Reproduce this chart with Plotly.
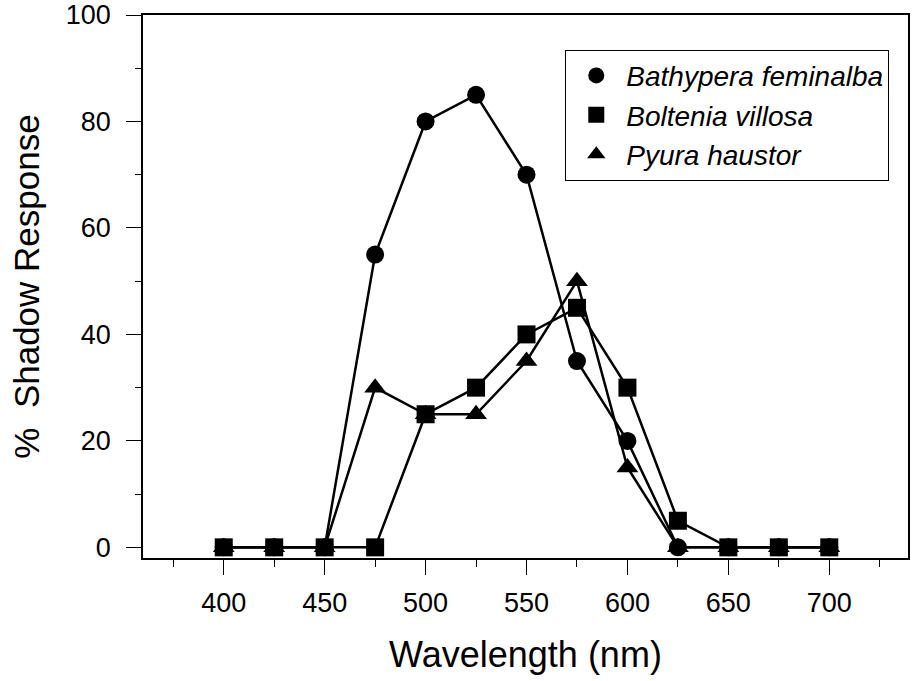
import plotly.graph_objects as go

wavelength = [400, 425, 450, 475, 500, 525, 550, 575, 600, 625, 650, 675, 700]
bathypera = [0, 0, 0, 55, 80, 85, 70, 35, 20, 0, 0, 0, 0]
boltenia = [0, 0, 0, 0, 25, 30, 40, 45, 30, 5, 0, 0, 0]
pyura = [0, 0, 0, 30, 25, 25, 35, 50, 15, 0, 0, 0, 0]

names = ["Bathypera feminalba", "Boltenia villosa", "Pyura haustor"]
x_ticks = [400, 450, 500, 550, 600, 650, 700]
y_ticks = [0, 20, 40, 60, 80, 100]

FONT = "Arial, 'Liberation Sans', sans-serif"
MS = 18

fig = go.Figure()
series = [
    (pyura, "triangle-up", names[2]),
    (bathypera, "circle", names[0]),
    (boltenia, "square", names[1]),
]
for vals, sym, nm in series:
    fig.add_trace(go.Scatter(
        x=wavelength, y=vals, mode="lines+markers", name=nm,
        line=dict(color="black", width=2.5),
        marker=dict(symbol=sym, size=MS if sym != "triangle-up" else MS + 1, color="black"),
        showlegend=False,
    ))

# legend entries (marker only), in reference order
for nm, sym in zip(names, ["circle", "square", "triangle-up"]):
    fig.add_trace(go.Scatter(
        x=[None], y=[None], mode="markers", name=nm,
        marker=dict(symbol=sym, size=MS if sym != "triangle-up" else MS + 1, color="black"),
        showlegend=True,
    ))

fig.update_layout(
    width=912, height=681,
    margin=dict(l=143, r=4, t=15, b=123),
    paper_bgcolor="white", plot_bgcolor="white",
    font=dict(family=FONT, color="black", size=27),
    legend=dict(
        x=0.552, y=0.936, xanchor="left", yanchor="top",
        bordercolor="black", borderwidth=1, bgcolor="white",
        font=dict(family=FONT, size=28, style="italic"),
        itemwidth=50, tracegroupgap=0,
    ),
    xaxis=dict(
        range=[360, 739], tickvals=x_ticks, ticks="outside", ticklen=15,
        tickwidth=1, tickcolor="black", automargin=False,
        minor=dict(dtick=25, tick0=375, ticks="outside", ticklen=7, tickcolor="black", tickwidth=1),
        showline=True, linecolor="black", linewidth=1.5, mirror=True,
        showgrid=False, zeroline=False,
        tickfont=dict(size=27), ticklabelstandoff=5,
        title=dict(text="Wavelength (nm)", font=dict(size=36), standoff=25),
    ),
    yaxis=dict(
        range=[-2, 100], tickvals=y_ticks, ticks="outside", ticklen=15,
        tickwidth=1, tickcolor="black", automargin=False,
        minor=dict(dtick=10, ticks="outside", ticklen=6, tickcolor="black", tickwidth=1),
        showline=True, linecolor="black", linewidth=1.5, mirror=True,
        showgrid=False, zeroline=False,
        tickfont=dict(size=27), ticklabelstandoff=10,
        title=dict(text="%  Shadow Response", font=dict(size=35), standoff=16),
    ),
)

fig.write_html("out.html", config={"displayModeBar": False},
               post_script="document.body.style.margin='0';")
